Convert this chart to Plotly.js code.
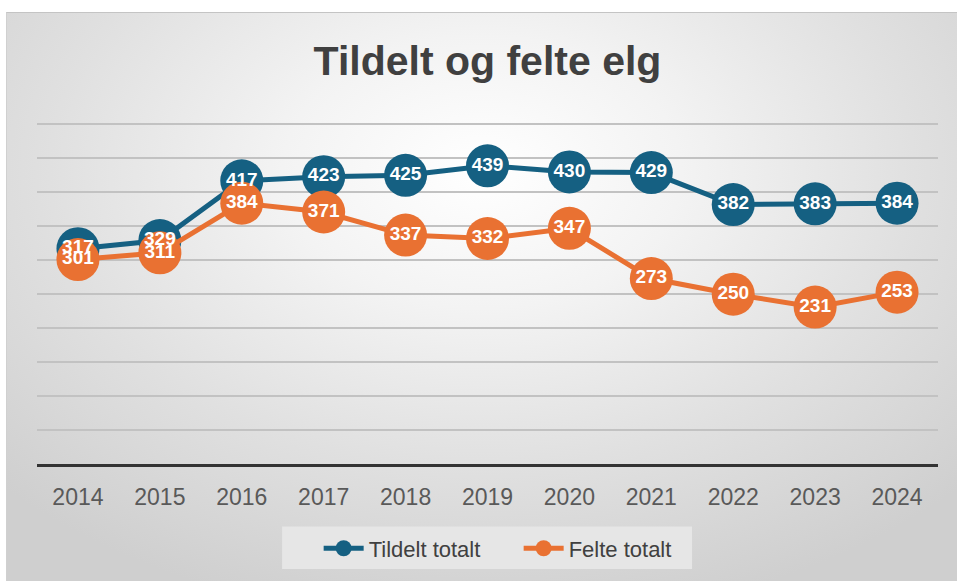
<!DOCTYPE html>
<html>
<head>
<meta charset="utf-8">
<script src="https://cdn.plot.ly/plotly-3.0.1.min.js"></script>
<style>
  html, body { margin: 0; padding: 0; background: #ffffff; }
  #wrap { position: relative; width: 957px; height: 581px; overflow: hidden; }
  #bg {
    position: absolute; left: 6px; top: 12px; width: 951px; height: 569px;
    background: radial-gradient(ellipse 70% 80% at 50% 28%, #ffffff 0%, #f3f3f3 30%, #e0e0e0 65%, #cfcfcf 100%);
    border-top: 1px solid #c4c4c4; border-left: 1px solid #d0d0d0;
    box-sizing: border-box;
  }
  #chart { position: absolute; left: 0; top: 0; width: 957px; height: 581px; }
</style>
</head>
<body>
<div id="wrap">
  <div id="bg"></div>
  <div id="chart"></div>
</div>
<script>
const years = ['2014','2015','2016','2017','2018','2019','2020','2021','2022','2023','2024'];
const tildelt = [317, 329, 417, 423, 425, 439, 430, 429, 382, 383, 384];
const felte = [301, 311, 384, 371, 337, 332, 347, 273, 250, 231, 253];
const seriesNames = ['Tildelt totalt', 'Felte totalt'];
const chartTitle = 'Tildelt og felte elg';

const blue = '#156082';
const orange = '#E97132';
const labelFont = { family: 'Liberation Sans, Arial, sans-serif', size: 19, color: '#ffffff', weight: 'bold' };

function lineTrace(name, values, color) {
  return {
    type: 'scatter',
    mode: 'lines+markers',
    name: name,
    x: years,
    y: values,
    line: { color: color, width: 5 },
    marker: { color: color, size: 43, line: { width: 0 } },
    cliponaxis: false,
    hoverinfo: 'skip'
  };
}
function labelTrace(values) {
  return {
    type: 'scatter',
    mode: 'text',
    x: years,
    y: values,
    text: values.map(String),
    textposition: 'middle center',
    textfont: labelFont,
    showlegend: false,
    cliponaxis: false,
    hoverinfo: 'skip'
  };
}

const data = [
  lineTrace(seriesNames[0], tildelt, blue),
  lineTrace(seriesNames[1], felte, orange),
  labelTrace(tildelt),
  labelTrace(felte)
];

const layout = {
  width: 957,
  height: 581,
  paper_bgcolor: 'rgba(0,0,0,0)',
  plot_bgcolor: 'rgba(0,0,0,0)',
  margin: { l: 37, r: 19, t: 121, b: 112 },
  title: {
    text: '<b>' + chartTitle + '</b>',
    font: { family: 'Liberation Sans, Arial, sans-serif', size: 41, color: '#404040' },
    x: 0.5, xanchor: 'center', xref: 'paper',
    y: 1 - 61 / 581, yref: 'container', yanchor: 'middle'
  },
  xaxis: {
    type: 'category',
    range: [-0.5, 10.5],
    showgrid: false,
    showline: true,
    linecolor: '#333333',
    linewidth: 3,
    ticks: '',
    tickfont: { family: 'Liberation Sans, Arial, sans-serif', size: 23, color: '#595959' },
    ticklabelstandoff: 10,
    zeroline: false
  },
  yaxis: {
    range: [0, 505],
    dtick: 50,
    tick0: 0,
    showticklabels: false,
    showgrid: true,
    gridcolor: '#c2c2c2',
    gridwidth: 2,
    zeroline: false,
    showline: false,
    ticks: ''
  },
  shapes: [{
    type: 'rect', xref: 'paper', yref: 'paper', layer: 'below',
    x0: 0.272, x1: 0.727, y0: -0.306, y1: -0.182,
    fillcolor: '#e6e6e6', line: { width: 0 }
  }],
  showlegend: true,
  legend: {
    orientation: 'h',
    x: 0.3126, xanchor: 'left',
    y: -0.185, yanchor: 'top',
    bgcolor: 'rgba(0,0,0,0)',
    borderwidth: 0,
    font: { family: 'Liberation Sans, Arial, sans-serif', size: 22, color: '#404040' },
    itemwidth: 40,
    entrywidth: 145,
    entrywidthmode: 'pixels',
    traceorder: 'normal'
  }
};

Plotly.newPlot('chart', data, layout, { displayModeBar: false, staticPlot: true });
</script>
</body>
</html>
